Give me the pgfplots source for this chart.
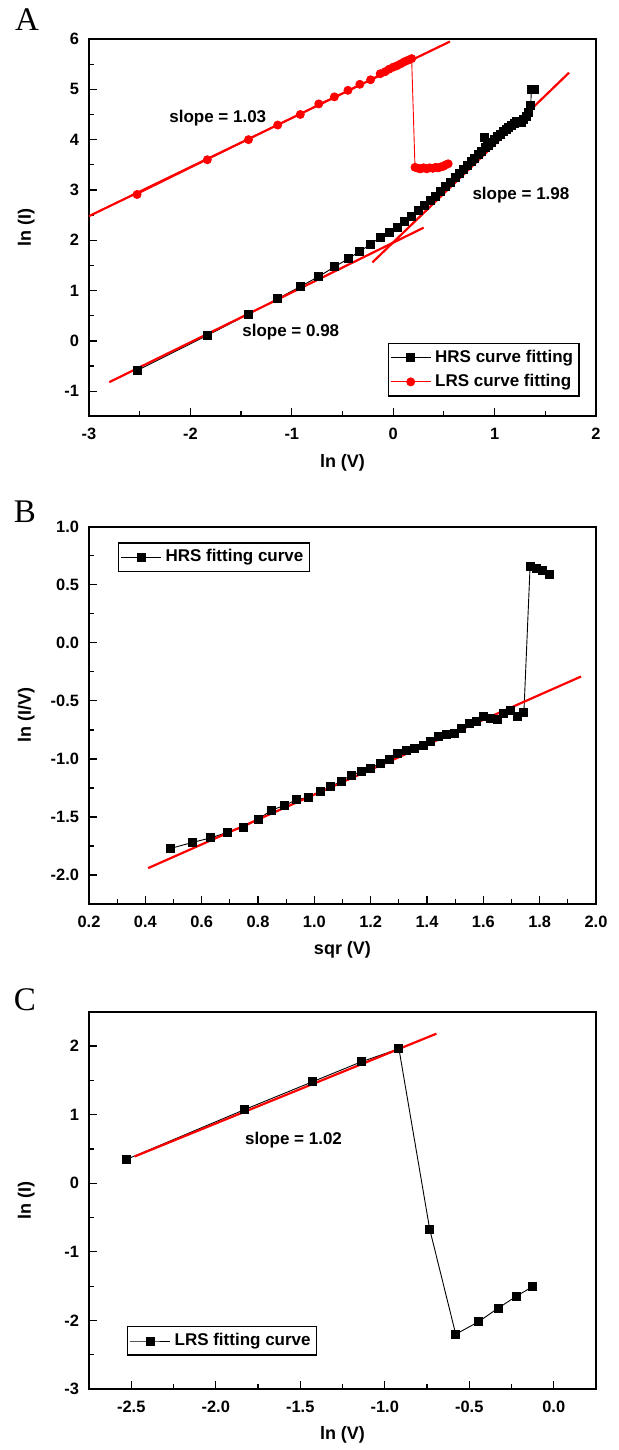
\documentclass[border=0pt]{standalone}
\usepackage{pgfplots}
\pgfplotsset{compat=1.18}
\usepackage{fontspec}
\setmainfont{Liberation Sans}
\newfontfamily\letterfont{Liberation Serif}
\definecolor{fitred}{RGB}{255,0,0}

\tikzset{slopetxt/.style={font=\fontsize{8.5}{10}\selectfont\bfseries}}
\pgfplotsset{
  panel/.style={
    scale only axis, width=253.5pt, height=188.7pt,
    axis line style={line width=1pt},
    tick align=inside, xtick pos=bottom, ytick pos=left,
    major tick length=4pt, minor tick length=2.5pt,
    every tick/.style={black, line width=0.6pt},
    minor x tick num=1, minor y tick num=1,
    /pgf/number format/assume math mode=true,
    tick label style={font=\fontsize{8.2}{9}\selectfont\bfseries},
    yticklabel style={xshift=-1.5pt},
    xticklabel style={yshift=-2.5pt},
    label style={font=\fontsize{9}{10}\selectfont\bfseries},
    ylabel style={at={(axis description cs:-0.124,0.5)}, anchor=center},
    xlabel style={at={(axis description cs:0.5,-0.122)}, anchor=center},
    legend style={font=\fontsize{8.5}{10}\selectfont\bfseries, draw=black, line width=0.7pt,
      inner sep=1pt, cells={anchor=west},
      nodes={inner sep=2pt, text height=6.4pt, text depth=1.8pt}},
    legend image code/.code={\draw[mark repeat=2, mark phase=2, #1]
      plot coordinates {(0pt,0pt) (10pt,0pt) (20pt,0pt)};},
  },
  hrs/.style={black, line width=0.45pt, mark=square*, mark size=2pt, mark options={solid, fill=black}},
  lrs/.style={fitred, line width=0.45pt, mark=*, mark size=2pt, mark options={solid, fill=fitred}},
  fit/.style={fitred, line width=1.1pt, no markers, forget plot},
}

\begin{document}
\begin{tikzpicture}
\useasboundingbox (0,0) rectangle (309.5pt,-725pt);

\node[font=\letterfont\fontsize{16.5}{18}\selectfont] at (13.5pt,-10pt) {A};
\node[font=\letterfont\fontsize{16.5}{18}\selectfont] at (12.5pt,-256pt) {B};
\node[font=\letterfont\fontsize{16.5}{18}\selectfont] at (12.5pt,-500pt) {C};

% ---- A: ln(I) vs ln(V)
\begin{axis}[panel, at={(44.5pt,-19.5pt)}, anchor=north west,
  xmin=-3, xmax=2, ymin=-1.5, ymax=6,
  xtick={-3,-2,...,2}, ytick={-1,0,...,6},
  xlabel={ln (V)}, ylabel={ln (I)},
  legend style={at={(axis description cs:0.968,0.052)}, anchor=south east}]
\addplot[hrs] coordinates {
(-2.526,-0.59) (-1.833,0.11) (-1.427,0.53) (-1.139,0.84) (-0.916,1.08) (-0.734,1.28)
(-0.580,1.47) (-0.446,1.63) (-0.329,1.78) (-0.223,1.92) (-0.128,2.06) (-0.041,2.16)
(0.039,2.26) (0.113,2.38) (0.182,2.48) (0.247,2.59) (0.307,2.70) (0.365,2.79)
(0.419,2.88) (0.470,2.97) (0.519,3.06) (0.565,3.15) (0.610,3.24) (0.652,3.33)
(0.693,3.41) (0.732,3.49) (0.770,3.56) (0.806,3.63) (0.842,3.70) (0.875,3.76)
(0.900,4.05) (0.908,3.84) (0.940,3.89) (0.970,3.95) (1.000,4.00) (1.030,4.06)
(1.058,4.11) (1.086,4.16) (1.113,4.20) (1.140,4.25) (1.166,4.29) (1.191,4.32)
(1.216,4.36) (1.241,4.37) (1.264,4.34) (1.288,4.40) (1.311,4.47) (1.335,4.55)
(1.357,4.67) (1.362,5.00) (1.395,5.00)};
\addlegendentry{HRS curve fitting}
\addplot[lrs] coordinates {
(-2.526,2.91) (-1.833,3.60) (-1.427,4.00) (-1.139,4.29) (-0.916,4.50) (-0.734,4.71)
(-0.580,4.85) (-0.446,4.98) (-0.329,5.10) (-0.223,5.19) (-0.128,5.31) (-0.080,5.35)
(-0.041,5.40) (0.000,5.44) (0.039,5.47) (0.077,5.51) (0.113,5.55) (0.148,5.58)
(0.182,5.61) (0.215,3.45) (0.247,3.43) (0.270,3.42) (0.300,3.44) (0.330,3.42)
(0.360,3.44) (0.390,3.43) (0.419,3.45) (0.445,3.44) (0.470,3.46) (0.495,3.47)
(0.519,3.50) (0.542,3.52)};
\addlegendentry{LRS curve fitting}
\addplot[fit] coordinates {(-3,2.48) (0.56,5.95)};
\addplot[fit] coordinates {(-2.80,-0.82) (0.30,2.25)};
\addplot[fit] coordinates {(-0.205,1.56) (1.734,5.33)};
\node[slopetxt] at (axis cs:-1.73,4.43) {slope = 1.03};
\node[slopetxt] at (axis cs:1.26,2.89) {slope = 1.98};
\node[slopetxt] at (axis cs:-1.01,0.18) {slope = 0.98};
\end{axis}

% ---- B: ln(I/V) vs sqrt(V)
\begin{axis}[panel, at={(44.5pt,-263.35pt)}, anchor=north west,
  xmin=0.2, xmax=2.0, ymin=-2.25, ymax=1.0,
  xtick={0.2,0.4,...,2.01}, ytick={-2,-1.5,...,1.01},
  xticklabel style={/pgf/number format/.cd, fixed, fixed zerofill, precision=1},
  yticklabel style={/pgf/number format/.cd, fixed, fixed zerofill, precision=1},
  xlabel={sqr (V)}, ylabel={ln (I/V)},
  legend style={at={(axis description cs:0.057,0.959)}, anchor=north west}]
\addplot[hrs] coordinates {
(0.490,-1.77) (0.566,-1.72) (0.632,-1.68) (0.693,-1.63) (0.748,-1.59) (0.800,-1.52)
(0.849,-1.44) (0.894,-1.40) (0.938,-1.35) (0.980,-1.33) (1.020,-1.28) (1.058,-1.24)
(1.095,-1.19) (1.131,-1.14) (1.166,-1.11) (1.200,-1.08) (1.233,-1.04) (1.265,-1.00)
(1.296,-0.95) (1.327,-0.93) (1.356,-0.91) (1.386,-0.88) (1.414,-0.85) (1.442,-0.81)
(1.470,-0.79) (1.497,-0.78) (1.523,-0.74) (1.549,-0.69) (1.575,-0.68) (1.600,-0.63)
(1.625,-0.65) (1.649,-0.66) (1.673,-0.61) (1.697,-0.58) (1.720,-0.63) (1.744,-0.60)
(1.766,0.66) (1.789,0.64) (1.811,0.62) (1.833,0.59)};
\addlegendentry{HRS fitting curve}
\addplot[fit] coordinates {(0.41,-1.94) (1.947,-0.29)};
\end{axis}

% ---- C: ln(I) vs ln(V), LRS
\begin{axis}[panel, at={(44.5pt,-505.85pt)}, anchor=north west,
  xmin=-2.75, xmax=0.25, ymin=-3, ymax=2.5,
  xtick={-2.5,-2,...,0.01}, ytick={-3,-2,...,2},
  xticklabel style={/pgf/number format/.cd, fixed, fixed zerofill, precision=1},
  xlabel={ln (V)}, ylabel={ln (I)},
  legend style={at={(axis description cs:0.075,0.088)}, anchor=south west}]
\addplot[hrs] coordinates {
(-2.526,0.35) (-1.833,1.07) (-1.427,1.48) (-1.139,1.77) (-0.916,1.96) (-0.734,-0.67)
(-0.580,-2.20) (-0.446,-2.02) (-0.329,-1.82) (-0.223,-1.65) (-0.128,-1.51)};
\addlegendentry{LRS fitting curve}
\addplot[fit] coordinates {(-2.48,0.39) (-0.694,2.18)};
\node[slopetxt] at (axis cs:-1.54,0.63) {slope = 1.02};
\end{axis}
\end{tikzpicture}
\end{document}
